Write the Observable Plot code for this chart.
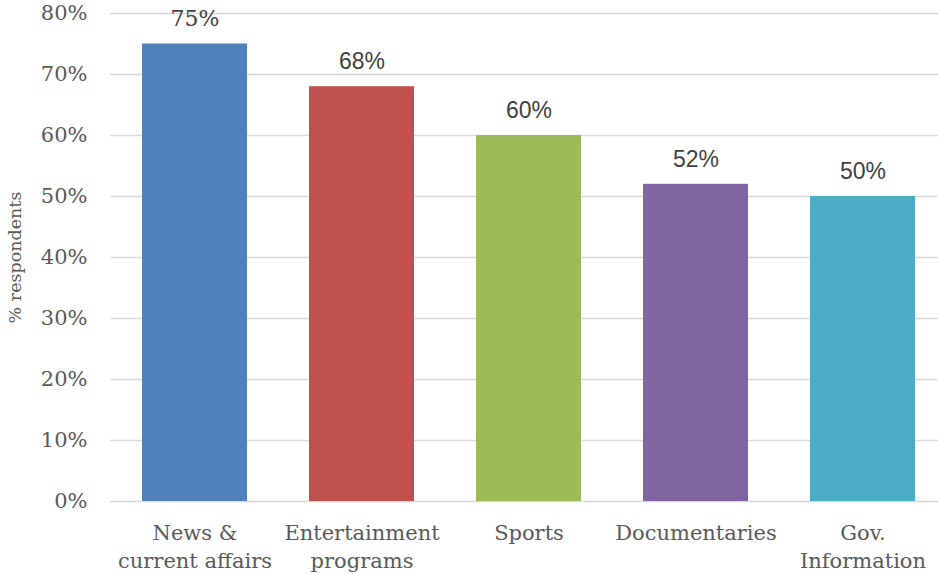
<!DOCTYPE html>
<html>
<head>
<meta charset="utf-8">
<script src="https://cdn.jsdelivr.net/npm/d3@7"></script>
<script src="https://cdn.jsdelivr.net/npm/@observablehq/plot@0.6"></script>
<style>
  html, body { margin: 0; padding: 0; background: #fff; }
</style>
</head>
<body>
<div id="chart"></div>
<script>
const categories = ["News &\ncurrent affairs", "Entertainment\nprograms", "Sports", "Documentaries", "Gov.\nInformation"];
const values = [75, 68, 60, 52, 50];
const colors = ["#4F81BD", "#C0504D", "#9BBB59", "#8064A2", "#4BACC6"];
const yTicks = [0, 10, 20, 30, 40, 50, 60, 70, 80];

const data = categories.map((c, i) => ({category: c, value: values[i], color: colors[i], idx: i}));

const serif = "'DejaVu Serif', serif";
const sans = "'Liberation Sans', Arial, sans-serif";

const chart = Plot.plot({
  width: 938,
  height: 574,
  marginTop: 13,
  marginBottom: 73,
  marginLeft: 110,
  marginRight: 0,
  style: {fontFamily: serif, background: "#fff"},
  x: {domain: categories, range: [110, 947], paddingInner: 0.37, paddingOuter: 0.185, label: null},
  y: {domain: [0, 80], label: null},
  marks: [
    Plot.ruleY(yTicks, {stroke: "#d9d9d9", strokeWidth: 1.5}),
    Plot.barY(data, {x: "category", y: "value", fill: "color"}),
    Plot.text(data.filter(d => d.idx === 0), {
      x: "category", y: "value", text: d => d.value + "%",
      dy: -25, fontSize: 22, fill: "#404040", fontFamily: serif
    }),
    Plot.text(data.filter(d => d.idx !== 0), {
      x: "category", y: "value", text: d => d.value + "%",
      dy: -25, fontSize: 23, fill: "#404040", fontFamily: sans
    }),
    Plot.axisX({
      tickSize: 0, tickPadding: 19, fontSize: 21, lineHeight: 1.33,
      color: "#595959", label: null
    }),
    Plot.axisY({
      ticks: yTicks, tickSize: 0, tickPadding: 23, fontSize: 21,
      tickFormat: d => d + "%", color: "#595959",
      label: "% respondents", labelAnchor: "center", labelArrow: "none",
      labelOffset: 102
    })
  ]
});

chart.querySelectorAll("[aria-label='y-axis label'] text, [aria-label='y-axis label']").forEach(el => {
  el.setAttribute("font-size", "17.5");
  el.style.fontSize = "17.5px";
});

document.getElementById("chart").appendChild(chart);
</script>
</body>
</html>
